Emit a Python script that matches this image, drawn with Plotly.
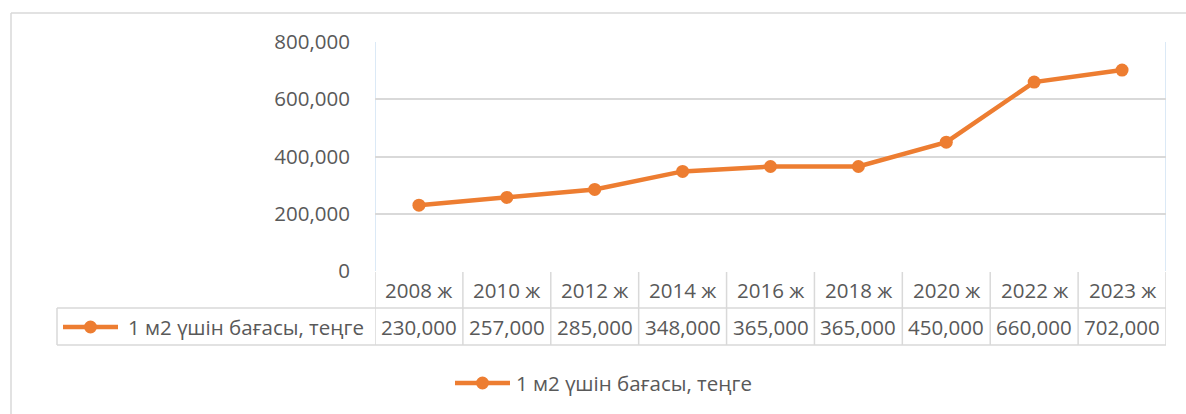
import plotly.graph_objects as go

# ---- data ----
years = ["2008 ж", "2010 ж", "2012 ж", "2014 ж", "2016 ж", "2018 ж", "2020 ж", "2022 ж", "2023 ж"]
prices = [230000, 257000, 285000, 348000, 365000, 365000, 450000, 660000, 702000]
series_name = "1 м2 үшін бағасы, теңге"

# ---- layout geometry (pixels) ----
W, H = 1186, 414
L, R, T, B = 375, 1166, 42, 271          # plot area
PW, PH = R - L, B - T
ORANGE = "#ED7D31"
GRID = "#D9D9D9"
TXT = "#595959"
FONT = "Open Sans, Noto Sans, Lato, sans-serif"
FS = 20.5


def px(xp):
    return (xp - L) / PW


def py(yp):
    return (B - yp) / PH


n = len(years)
fig = go.Figure()
fig.add_trace(go.Scatter(
    x=list(range(n)), y=prices, mode="lines+markers", name=series_name,
    line=dict(color=ORANGE, width=4.5), marker=dict(color=ORANGE, size=13),
    showlegend=False, hoverinfo="x+y"))

shapes = []
annotations = []

# outer chart border (top & left visible)
shapes.append(dict(type="line", xref="paper", yref="paper", x0=px(11), x1=px(1190), y0=py(13), y1=py(13),
                   line=dict(color=GRID, width=1.5)))
shapes.append(dict(type="line", xref="paper", yref="paper", x0=px(11), x1=px(11), y0=py(13), y1=py(420),
                   line=dict(color=GRID, width=1.5)))

# plot-area side lines (light blue)
for xv in (-0.5, n - 0.5):
    shapes.append(dict(type="line", xref="x", yref="paper", x0=xv, x1=xv, y0=0, y1=1,
                       line=dict(color="#CFE2F3", width=1.5), layer="below"))

# data table
row1_top, row1_bot, row2_bot = 272, 308, 345
for i in range(n + 1):
    xv = i - 0.5
    shapes.append(dict(type="line", xref="x", yref="paper", x0=xv, x1=xv, y0=py(row1_top), y1=py(row2_bot),
                       line=dict(color=GRID, width=1.5)))
shapes.append(dict(type="line", xref="paper", yref="paper", x0=px(57), x1=1, y0=py(row1_bot), y1=py(row1_bot),
                   line=dict(color=GRID, width=1.5)))
shapes.append(dict(type="line", xref="paper", yref="paper", x0=px(57), x1=1, y0=py(row2_bot), y1=py(row2_bot),
                   line=dict(color=GRID, width=1.5)))
shapes.append(dict(type="line", xref="paper", yref="paper", x0=px(57), x1=px(57), y0=py(row1_bot), y1=py(row2_bot),
                   line=dict(color=GRID, width=1.5)))

for i, (yr, v) in enumerate(zip(years, prices)):
    annotations.append(dict(x=i, xref="x", y=py(290), yref="paper", text=yr, showarrow=False,
                            font=dict(family=FONT, size=FS, color=TXT), xanchor="center", yanchor="middle"))
    annotations.append(dict(x=i, xref="x", y=py(327), yref="paper", text=f"{v:,}", showarrow=False,
                            font=dict(family=FONT, size=FS, color=TXT), xanchor="center", yanchor="middle"))


def legend_key(x0, x1, yc):
    shapes.append(dict(type="line", xref="paper", yref="paper", x0=px(x0), x1=px(x1), y0=py(yc), y1=py(yc),
                       line=dict(color=ORANGE, width=4.5)))
    cx = (x0 + x1) / 2
    shapes.append(dict(type="circle", xref="paper", yref="paper", x0=px(cx - 6.5), x1=px(cx + 6.5),
                       y0=py(yc + 6.5), y1=py(yc - 6.5), fillcolor=ORANGE, line=dict(color=ORANGE, width=0)))


# legend key inside table
legend_key(63, 118, 327)
annotations.append(dict(x=px(366), xref="paper", y=py(327), yref="paper", text=series_name, showarrow=False,
                        font=dict(family=FONT, size=FS, color=TXT), xanchor="right", yanchor="middle"))

# bottom legend
legend_key(455, 510, 383)
annotations.append(dict(x=px(514), xref="paper", y=py(383), yref="paper", text=series_name, showarrow=False,
                        font=dict(family=FONT, size=FS, color=TXT), xanchor="left", yanchor="middle"))

fig.update_layout(
    width=W, height=H, autosize=False,
    margin=dict(l=L, r=W - R, t=T, b=H - B, pad=0),
    paper_bgcolor="white", plot_bgcolor="white",
    font=dict(family=FONT, size=FS, color=TXT),
    xaxis=dict(range=[-0.5, n - 0.5], showticklabels=False, showgrid=False, zeroline=False,
               showline=False, fixedrange=True),
    yaxis=dict(range=[0, 800000], dtick=200000, tickformat=",", gridcolor=GRID, gridwidth=1.5,
               zeroline=False, showline=False, ticks="outside", ticklen=20, tickcolor="rgba(0,0,0,0)",
               tickfont=dict(family=FONT, size=FS, color=TXT), fixedrange=True),
    shapes=shapes, annotations=annotations,
)

fig.write_html("out.html", config={"displayModeBar": False},
               post_script="document.body.style.margin='0';document.body.style.overflow='hidden';")
